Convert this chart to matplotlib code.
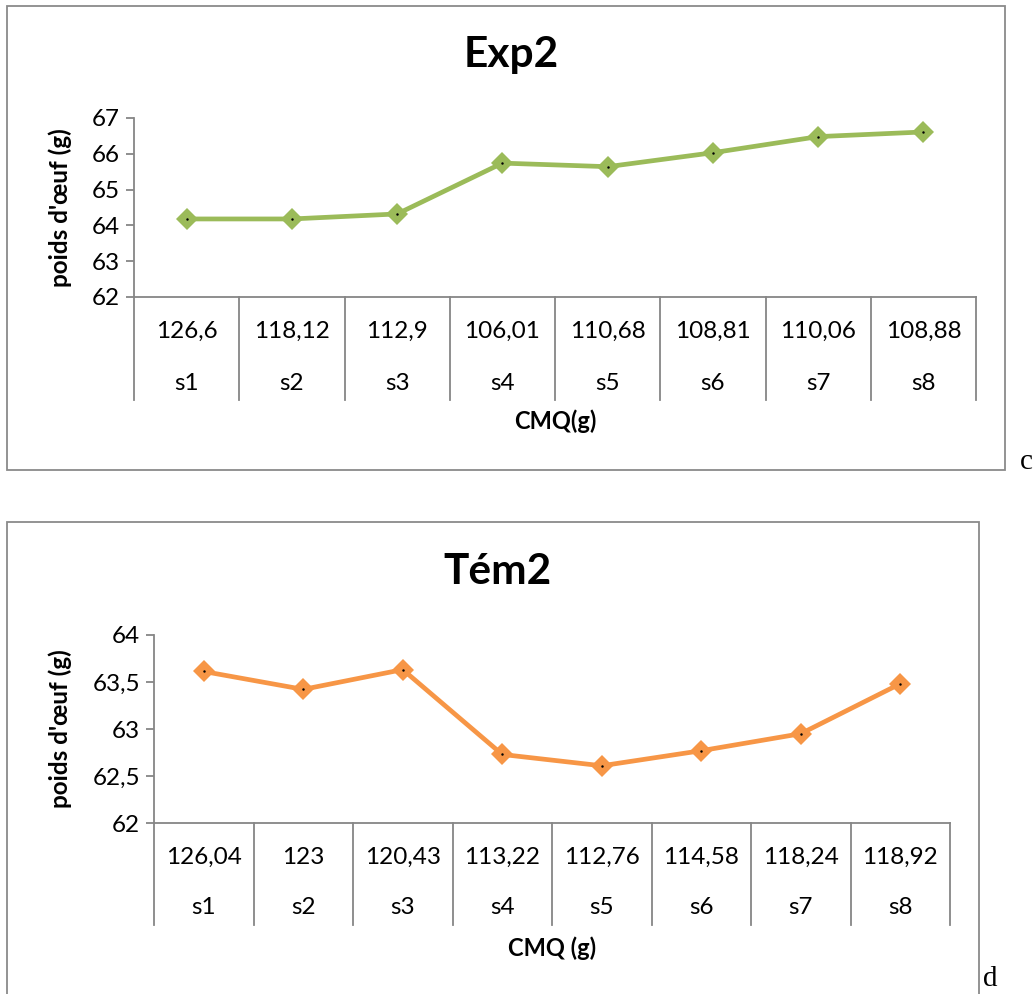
import matplotlib
matplotlib.use("Agg")
import matplotlib.pyplot as plt
from matplotlib.patches import Rectangle

plt.rcParams['font.family'] = ['Lato', 'DejaVu Sans']

# ---------------- data ----------------
sessions = ["s1", "s2", "s3", "s4", "s5", "s6", "s7", "s8"]
cmq_exp2 = ["126,6", "118,12", "112,9", "106,01", "110,68", "108,81", "110,06", "108,88"]
poids_exp2 = [64.18, 64.18, 64.32, 65.74, 65.64, 66.03, 66.48, 66.61]
cmq_tem2 = ["126,04", "123", "120,43", "113,22", "112,76", "114,58", "118,24", "118,92"]
poids_tem2 = [63.61, 63.42, 63.63, 62.73, 62.61, 62.77, 62.95, 63.48]
yticks_exp2 = [62, 63, 64, 65, 66, 67]
yticks_tem2 = [62, 62.5, 63, 63.5, 64]

W, H = 1033, 994
fig = plt.figure(figsize=(W / 100, H / 100), dpi=100)
GRAY = "#868686"


def fx(px):
    return px / W


def fy(py):
    return 1 - py / H


def frame(x0, y0, x1, y1):
    fig.patches.append(Rectangle((fx(x0), fy(y1)), fx(x1) - fx(x0), fy(y0) - fy(y1),
                                 transform=fig.transFigure, fill=False,
                                 edgecolor="#8a8a8a", linewidth=1.3, zorder=0))


def panel(left, right, top, bottom, tbl_bottom, row1, row2, lab_y,
          vals, cmq, ylim, yticks, color, title, title_x, title_y, xlabel, ylabel_x):
    ax = fig.add_axes([fx(left), fy(bottom), fx(right) - fx(left), fy(top) - fy(bottom)])
    h = bottom - top
    n = len(vals)
    xs = [i + 0.5 for i in range(n)]
    ax.plot(xs, vals, color=color, linewidth=3.4, marker="D", markersize=11,
            markeredgewidth=0, zorder=3, solid_joinstyle="round")
    ax.plot(xs, vals, linestyle="none", marker=".", markersize=1.5, color="black", zorder=4)
    ax.set_xlim(0, n)
    ax.set_ylim(*ylim)
    ax.set_yticks(yticks)
    ax.set_yticklabels([f"{t:g}".replace(".", ",") for t in yticks], fontsize=17.5)
    ax.set_xticks([])
    for s in ["top", "right"]:
        ax.spines[s].set_visible(False)
    for s in ["left", "bottom"]:
        ax.spines[s].set_color(GRAY)
        ax.spines[s].set_linewidth(1.3)
    ax.tick_params(axis="y", direction="out", length=6, width=1.3, color=GRAY, pad=4)
    tr = ax.get_xaxis_transform()
    depth = (tbl_bottom - bottom) / h
    for i in range(n + 1):
        ax.plot([i, i], [0, -depth], transform=tr, color=GRAY, linewidth=1.3, clip_on=False)
    for i in range(n):
        ax.text(i + 0.5, -(row1 - bottom) / h, cmq[i], transform=tr, ha="center",
                va="center", fontsize=17.5)
        ax.text(i + 0.5, -(row2 - bottom) / h, sessions[i], transform=tr, ha="center",
                va="center", fontsize=17.5)
    ax.text(n / 2, -(lab_y - bottom) / h, xlabel, transform=tr, ha="center", va="center",
            fontsize=17, fontweight="bold")
    fig.text(fx(ylabel_x), fy((top + bottom) / 2), "poids d'œuf (g)", rotation=90,
             ha="center", va="center", fontsize=17.5, fontweight="bold")
    fig.text(fx(title_x), fy(title_y), title, ha="center", va="center", fontsize=30.5,
             fontweight="bold")
    return ax


# top chart frame and panel
frame(7, 6, 1005, 470)
panel(134, 976, 118, 297, 400, 331, 383, 421, poids_exp2, cmq_exp2, (62, 67), yticks_exp2,
      "#9BBB59", "Exp2", 511, 55, "CMQ(g)", 60)
fig.text(fx(1020), fy(462), "c", ha="left", va="center", fontsize=21,
         family="Liberation Serif")

# bottom chart frame and panel
frame(7, 522, 979, 1010)
panel(154, 950, 634.7, 823.3, 925, 857, 908, 948, poids_tem2, cmq_tem2, (62, 64), yticks_tem2,
      "#F79646", "Tém2", 497, 572, "CMQ (g)", 60)
fig.text(fx(983), fy(979), "d", ha="left", va="center", fontsize=21,
         family="Liberation Serif")

fig.savefig("out.png", dpi=100, facecolor="white")
